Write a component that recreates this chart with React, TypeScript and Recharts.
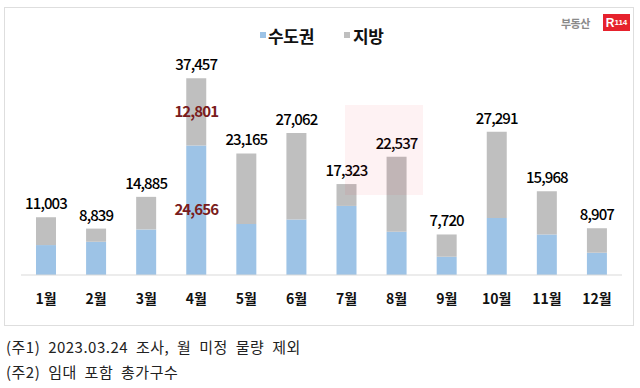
import React from 'react';
import { BarChart, Bar, XAxis, YAxis, LabelList } from 'recharts';

const months = ['1월', '2월', '3월', '4월', '5월', '6월', '7월', '8월', '9월', '10월', '11월', '12월'];
const metro = [5700, 6330, 8680, 24656, 9700, 10570, 13160, 8220, 3480, 10880, 7720, 4240];
const regional = [5303, 2509, 6205, 12801, 13465, 16492, 4163, 14317, 4240, 16411, 8248, 4667];
const totals = [11003, 8839, 14885, 37457, 23165, 27062, 17323, 22537, 7720, 27291, 15968, 8907];
const highlightIndex = 3;

const data = months.map((m, i) => ({ month: m, metro: metro[i], regional: regional[i] }));

const FONT = '"Noto Sans CJK KR", "Noto Sans", sans-serif';
const fmt = (v: number) => v.toLocaleString('en-US');

const renderTotal = (props: any) => {
  const { x, y, width, index } = props;
  return (
    <text
      x={Number(x) + Number(width) / 2}
      y={Number(y) - 8}
      textAnchor="middle"
      fontFamily={FONT}
      fontSize={15}
      fontWeight={500}
      letterSpacing={-0.9}
      fill="#000"
    >
      {fmt(totals[index])}
    </text>
  );
};

const makeInner = (arr: number[]) => (props: any) => {
  const { x, y, width, height, index } = props;
  if (index !== highlightIndex) return null;
  return (
    <text
      x={Number(x) + Number(width) / 2}
      y={Number(y) + Number(height) / 2 + 5}
      textAnchor="middle"
      fontFamily={FONT}
      fontSize={15}
      fontWeight={700}
      letterSpacing={-0.9}
      fill="#7a1c1c"
    >
      {fmt(arr[index])}
    </text>
  );
};

const noteStyle: React.CSSProperties = {
  position: 'absolute',
  left: 6,
  fontSize: 15,
  color: '#222',
  letterSpacing: 0.5,
  wordSpacing: 4,
  whiteSpace: 'nowrap',
  lineHeight: '20px',
};

export default function App() {
  return (
    <div style={{ position: 'absolute', left: 0, top: 0, width: 640, height: 388, background: '#fff', fontFamily: FONT }}>
      <div style={{ position: 'absolute', left: 4, top: 7, width: 630, height: 319, border: '1px solid #dedede', boxSizing: 'border-box' }} />
      {/* logo */}
      <div style={{ position: 'absolute', left: 561, top: 15, fontSize: 11, fontWeight: 700, color: '#8a8a8a', letterSpacing: -0.5 }}>부동산</div>
      <div style={{ position: 'absolute', left: 603, top: 14, width: 27, height: 17, background: '#e6222d', color: '#fff', fontWeight: 700, fontFamily: '"Liberation Sans", sans-serif', display: 'flex', alignItems: 'center', justifyContent: 'center' }}>
        <span style={{ fontSize: 12 }}>R</span>
        <span style={{ fontSize: 8 }}>114</span>
      </div>
      {/* legend */}
      <div style={{ position: 'absolute', left: 260, top: 32, width: 6, height: 6, background: '#9dc3e6' }} />
      <div style={{ position: 'absolute', left: 268, top: 25, fontSize: 17, fontWeight: 700, color: '#111', lineHeight: '22px', letterSpacing: -0.3 }}>수도권</div>
      <div style={{ position: 'absolute', left: 344, top: 32, width: 6, height: 6, background: '#bfbfbf' }} />
      <div style={{ position: 'absolute', left: 353, top: 25, fontSize: 17, fontWeight: 700, color: '#111', lineHeight: '22px', letterSpacing: -0.3 }}>지방</div>
      <div style={{ position: 'absolute', left: 0, top: 0 }}>
        <BarChart
          width={640}
          height={330}
          data={data}
          margin={{ top: 65, right: 18, bottom: 25, left: 21 }}
          barSize={20}
        >
          <XAxis
            dataKey="month"
            height={30}
            tickLine={false}
            tickMargin={13}
            axisLine={{ stroke: '#d9d9d9' }}
            tick={{ fontFamily: FONT, fontSize: 14, fontWeight: 700, fill: '#111' }}
            interval={0}
          />
          <YAxis hide domain={[0, 40000]} />
          <Bar dataKey="metro" stackId="a" fill="#9dc3e6" isAnimationActive={false}>
            <LabelList dataKey="metro" content={makeInner(metro)} />
          </Bar>
          <Bar dataKey="regional" stackId="a" fill="#bfbfbf" isAnimationActive={false}>
            <LabelList dataKey="regional" content={makeInner(regional)} />
            <LabelList dataKey="regional" content={renderTotal} />
          </Bar>
        </BarChart>
      </div>
      {/* watermark overlay */}
      <div style={{ position: 'absolute', left: 345, top: 105, width: 78, height: 90, background: 'rgba(232,40,50,0.06)', pointerEvents: 'none' }} />
      {/* footnotes */}
      <div style={{ ...noteStyle, top: 337 }}>(주1) 2023.03.24 조사, 월 미정 물량 제외</div>
      <div style={{ ...noteStyle, top: 362 }}>(주2) 임대 포함 총가구수</div>
    </div>
  );
}
